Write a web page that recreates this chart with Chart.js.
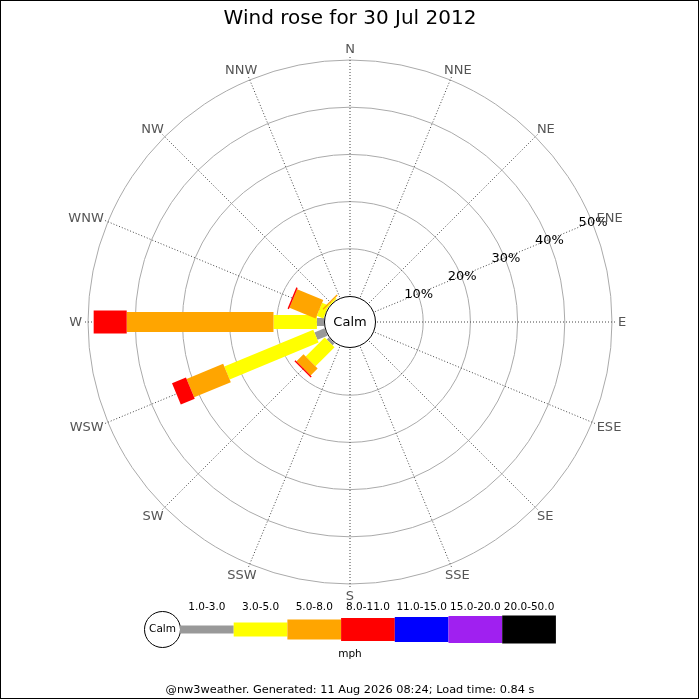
<!DOCTYPE html>
<html>
<head>
<meta charset="utf-8">
<title>Wind rose</title>
<script src="https://cdn.jsdelivr.net/npm/chart.js@4.4.1/dist/chart.umd.min.js"></script>
<style>
  html, body { margin: 0; padding: 0; background: #fff; }
  canvas { display: block; }
</style>
</head>
<body>
<canvas id="rose" width="700" height="700"></canvas>
<script>
const directions = ['N', 'NNE', 'NE', 'ENE', 'E', 'ESE', 'SE', 'SSE',
                    'S', 'SSW', 'SW', 'WSW', 'W', 'WNW', 'NW', 'NNW'];
const speedBins = ['1.0-3.0', '3.0-5.0', '5.0-8.0', '8.0-11.0', '11.0-15.0', '15.0-20.0', '20.0-50.0'];
const ringTicks = [10, 20, 30, 40, 50];

// % of the day per direction, one list per speed bin (N .. NNW)
const s1to3   = [0, 0, 0, 0, 0, 0, 0, 0, 0, 0, 0.6, 2.3, 1.5, 0,   0,   0];
const s3to5   = [0, 0, 0, 0, 0, 0, 0, 0, 0, 0, 5.7, 20.4, 9.2, 1.5, 0.3, 0];
const s5to8   = [0, 0, 0, 0, 0, 0, 0, 0, 0, 0, 2.1, 8.4, 31.1, 6.0, 0.3, 0];
const s8to11  = [0, 0, 0, 0, 0, 0, 0, 0, 0, 0, 0.3, 3.2, 7.0, 0.3, 0,   0];
const s11to15 = [0, 0, 0, 0, 0, 0, 0, 0, 0, 0, 0,   0,   0,   0,   0,   0];
const s15to20 = [0, 0, 0, 0, 0, 0, 0, 0, 0, 0, 0,   0,   0,   0,   0,   0];
const s20to50 = [0, 0, 0, 0, 0, 0, 0, 0, 0, 0, 0,   0,   0,   0,   0,   0];

const binColors = ['#999999', '#ffff00', '#ffa500', '#ff0000', '#0000ff', '#a020f0', '#000000'];
const binWidths = [8, 14, 20, 23, 25, 27, 28];
const FONT = 'DejaVu Sans';

const binData = [s1to3, s3to5, s5to8, s8to11, s11to15, s15to20, s20to50];

const roseBars = {
    id: 'roseBars',
    afterDatasetsDraw(chart) {
        const c = chart.ctx;
        const r = chart.scales.r;
        c.save();
        c.lineCap = 'butt';
        directions.forEach((d, i) => {
            let cum = 0;
            chart.data.datasets.forEach((ds, b) => {
                const v = ds.data[i];
                if (!v) return;
                const p1 = r.getPointPositionForValue(i, cum);
                const p2 = r.getPointPositionForValue(i, cum + v);
                c.strokeStyle = binColors[b];
                c.lineWidth = binWidths[b];
                c.beginPath();
                c.moveTo(p1.x, p1.y);
                c.lineTo(p2.x, p2.y);
                c.stroke();
                cum += v;
            });
        });

        // calm circle
        c.beginPath();
        c.arc(r.xCenter, r.yCenter, 25.5, 0, Math.PI * 2);
        c.fillStyle = '#fff';
        c.fill();
        c.lineWidth = 1;
        c.strokeStyle = '#000';
        c.stroke();
        c.fillStyle = '#000';
        c.font = '13px "' + FONT + '"';
        c.textAlign = 'center';
        c.textBaseline = 'middle';
        c.fillText('Calm', r.xCenter, r.yCenter + 1);

        // ring labels along ENE
        ringTicks.forEach(t => {
            const p = r.getPointPositionForValue(3, t);
            c.fillText(t + '%', p.x + 1, p.y + 1);
        });

        // compass labels, pushed out by half their box
        c.fillStyle = '#555';
        const R = r.drawingArea + 1;
        directions.forEach((d, i) => {
            const p = r.getPointPosition(i, R);
            const ux = (p.x - r.xCenter) / R, uy = (p.y - r.yCenter) / R;
            const w = c.measureText(d).width;
            c.fillText(d, p.x + ux * w / 2, p.y + uy * 5.5 + 1);
        });
        c.restore();
    },
    afterDraw(chart) {
        const c = chart.ctx;
        c.save();
        // speed legend
        const x0 = 180, step = 53.7, cy = 629.5;
        c.beginPath();
        c.arc(162.5, cy, 18, 0, Math.PI * 2);
        c.fillStyle = '#fff';
        c.fill();
        c.strokeStyle = '#000';
        c.lineWidth = 1;
        c.stroke();
        c.fillStyle = '#000';
        c.font = '10.5px "' + FONT + '"';
        c.textAlign = 'center';
        c.textBaseline = 'middle';
        c.fillText('Calm', 162.5, cy);
        speedBins.forEach((lab, b) => {
            const h = binWidths[b];
            c.fillStyle = binColors[b];
            c.fillRect(x0 + b * step, cy - h / 2, step, h);
            c.fillStyle = '#000';
            c.fillText(lab, x0 + b * step + step / 2, 607);
        });
        c.fillText('mph', 350, 654);
        c.font = '11.3px "' + FONT + '"';
        c.fillText('@nw3weather. Generated: 11 Aug 2026 08:24; Load time: 0.84 s', 350, 690);

        c.strokeStyle = '#000';
        c.lineWidth = 1;
        c.strokeRect(0.5, 0.5, 698, 698);
        c.restore();
    }
};

Chart.defaults.font.family = FONT;

new Chart(document.getElementById('rose'), {
    type: 'radar',
    data: {
        labels: directions,
        datasets: speedBins.map((lab, b) => ({
            label: lab,
            data: binData[b],
            showLine: false,
            fill: false,
            borderWidth: 0,
            pointRadius: 0,
            pointHoverRadius: 0
        }))
    },
    options: {
        responsive: false,
        animation: false,
        devicePixelRatio: 1,
        layout: { padding: { top: 0, left: 83, right: 83, bottom: 111 } },
        plugins: {
            legend: { display: false },
            tooltip: { enabled: false },
            title: {
                display: true,
                text: 'Wind rose for 30 Jul 2012',
                color: '#000',
                font: { size: 20, weight: 'normal', family: FONT },
                padding: { top: 7, bottom: 24 }
            }
        },
        scales: {
            r: {
                min: -5.51,
                max: 51.06,
                beginAtZero: false,
                afterBuildTicks: s => { s.ticks = ringTicks.map(v => ({ value: v })); },
                ticks: { display: false },
                pointLabels: { display: false },
                grid: { circular: true, color: '#aaaaaa', lineWidth: 1 },
                angleLines: { color: '#444', lineWidth: 1, borderDash: [1, 2] }
            }
        }
    },
    plugins: [roseBars]
});
</script>
</body>
</html>
